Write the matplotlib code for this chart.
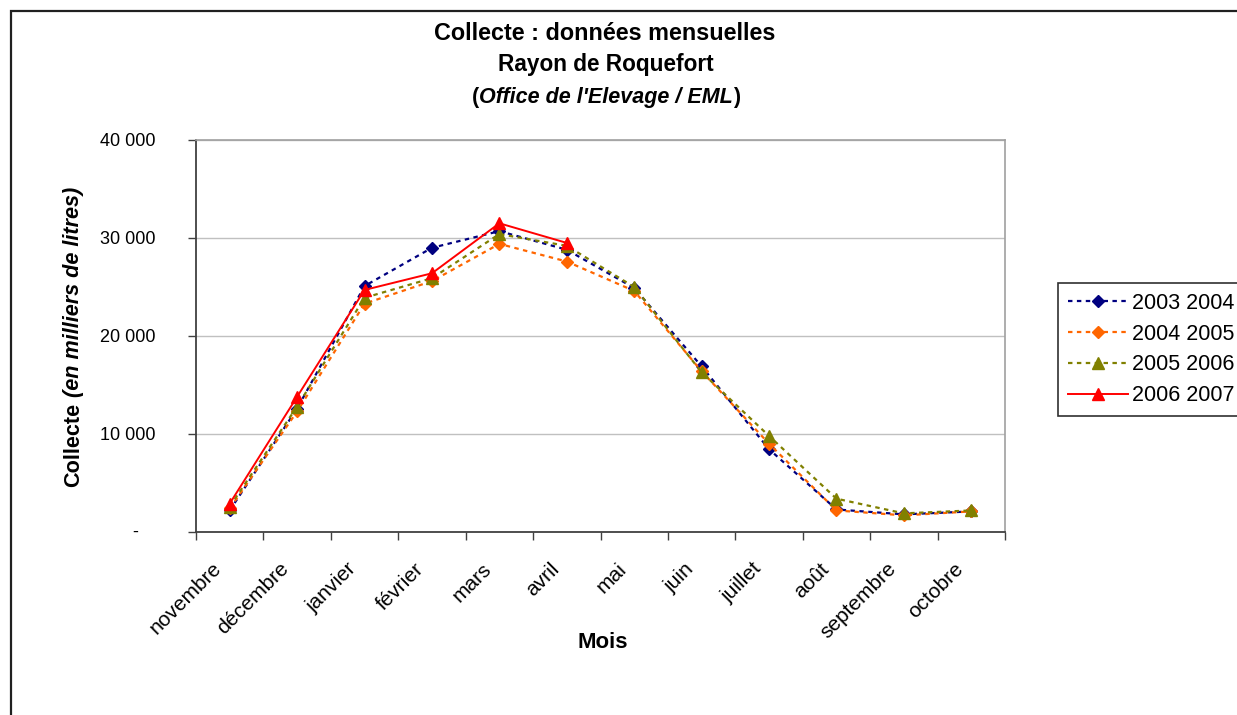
import matplotlib
matplotlib.use("Agg")
import matplotlib.pyplot as plt
from matplotlib.patches import Rectangle
from matplotlib.ticker import FuncFormatter, FixedLocator
from matplotlib.transforms import ScaledTranslation

plt.rcParams['font.family'] = ['Liberation Sans', 'DejaVu Sans']

# Données (milliers de litres)
mois = ["novembre", "décembre", "janvier", "février", "mars", "avril",
        "mai", "juin", "juillet", "août", "septembre", "octobre"]
c_2003_2004 = [2200, 12600, 25100, 29000, 30700, 28800, 24900, 16900, 8450, 2300, 1800, 2100]
c_2004_2005 = [2400, 12300, 23300, 25600, 29400, 27600, 24600, 16400, 9000, 2200, 1700, 2100]
c_2005_2006 = [2600, 12800, 23900, 25900, 30400, 29200, 25000, 16300, 9800, 3400, 1900, 2200]
c_2006_2007 = [2900, 13800, 24700, 26400, 31500, 29500]
saisons = ["2003 2004", "2004 2005", "2005 2006", "2006 2007"]

W, H = 1237, 715
fig = plt.figure(figsize=(W / 100, H / 100), dpi=100)
ax = fig.add_axes([196 / W, 1 - 532 / H, (1005 - 196) / W, (532 - 140) / H])

x = list(range(len(mois)))
ax.plot(x, c_2003_2004, color="#000080", linestyle=(0, (2, 2)), lw=1.6,
        marker="D", ms=6.5, label=saisons[0])
ax.plot(x, c_2004_2005, color="#FF6600", linestyle=(0, (2, 2)), lw=1.6,
        marker="D", ms=6.5, label=saisons[1])
ax.plot(x, c_2005_2006, color="#808000", linestyle=(0, (2, 2)), lw=1.6,
        marker="^", ms=9, label=saisons[2])
ax.plot(x[:len(c_2006_2007)], c_2006_2007, color="#FF0000", linestyle="-", lw=1.4,
        marker="^", ms=9, label=saisons[3])

ax.set_xlim(-0.5, len(mois) - 0.5)
ax.set_ylim(0, 40000)

# axe Y
ax.yaxis.set_major_locator(FixedLocator([0, 10000, 20000, 30000, 40000]))
ax.yaxis.set_major_formatter(FuncFormatter(
    lambda v, p: "" if v == 0 else f"{int(v):,}".replace(",", " ")))
ax.tick_params(axis="y", direction="out", length=6, width=1, color="#404040",
               pad=23, labelsize=13)
ax.annotate("-", xy=(0, 0), xycoords=("axes fraction", "data"), xytext=(-42, 0),
            textcoords="offset points", ha="right", va="center", fontsize=13)
ax.grid(axis="y", color="#C0C0C0", lw=1)
ax.set_axisbelow(True)

# axe X : graduations entre les catégories, libellés au centre
ax.xaxis.set_major_locator(FixedLocator([i - 0.5 for i in range(len(mois) + 1)]))
ax.xaxis.set_major_formatter(FuncFormatter(lambda v, p: ""))
ax.xaxis.set_minor_locator(FixedLocator(x))
ax.set_xticklabels(mois, minor=True, rotation=45, ha="right", va="baseline",
                   rotation_mode="anchor", fontsize=15)
ax.tick_params(axis="x", which="major", direction="out", length=6, width=1, color="#404040")
ax.tick_params(axis="x", which="minor", length=0, pad=25)
decal = ScaledTranslation(-0.07, -0.03, fig.dpi_scale_trans)
for lab in ax.get_xticklabels(minor=True):
    lab.set_transform(lab.get_transform() + decal)

for s in ["left", "bottom"]:
    ax.spines[s].set_color("#404040")
    ax.spines[s].set_linewidth(1.3)
for s in ["top", "right"]:
    ax.spines[s].set_color("#A0A0A0")
    ax.spines[s].set_linewidth(1.2)

leg = ax.legend(loc="upper left", bbox_to_anchor=(1058 / W, 1 - 283 / H),
                bbox_transform=fig.transFigure, borderaxespad=0, fontsize=15.5,
                handlelength=2.8, handletextpad=0.2, labelspacing=0.46,
                borderpad=0.45, fancybox=False, framealpha=1)
leg.get_frame().set_edgecolor("#303030")
leg.get_frame().set_linewidth(1.2)

renderer = fig.canvas.get_renderer()


def texte_mixte(cx, cy, morceaux, taille, rotation=0):
    """Écrit un texte composé de morceaux droits/italiques, centré sur (cx, cy) en pixels."""
    largeurs = []
    for txt, style in morceaux:
        if txt == " ":
            largeurs.append(taille * 0.278 * 100 / 72)
            continue
        t = fig.text(0, 0, txt, fontsize=taille, fontweight="bold", fontstyle=style)
        largeurs.append(t.get_window_extent(renderer).width)
        t.remove()
    total = sum(largeurs)
    pos = 0
    for (txt, style), w in zip(morceaux, largeurs):
        if txt != " ":
            if rotation == 0:
                fig.text((cx - total / 2 + pos) / W, 1 - cy / H, txt, fontsize=taille,
                         fontweight="bold", fontstyle=style, ha="left", va="center_baseline")
            else:
                fig.text(cx / W, 1 - (cy + total / 2 - pos) / H, txt, fontsize=taille,
                         fontweight="bold", fontstyle=style, rotation=90,
                         rotation_mode="anchor", ha="left", va="baseline")
        pos += w


# titre
fig.text(605 / W, 1 - 33 / H, "Collecte : données mensuelles", fontsize=16.8,
         fontweight="bold", ha="center", va="center")
fig.text(606 / W, 1 - 64 / H, "Rayon de Roquefort", fontsize=16.3,
         fontweight="bold", ha="center", va="center")
texte_mixte(606, 95, [("(", "normal"), ("Office de l'Elevage / EML", "italic"),
                      (")", "normal")], 15.5)

# titres des axes
fig.text(603 / W, 1 - 643 / H, "Mois", fontsize=16, fontweight="bold",
         ha="center", va="center")
texte_mixte(79, 337, [("Collecte", "normal"), (" ", "normal"),
                      ("(en milliers de litres)", "italic")], 15.6, rotation=90)

# cadre du graphique
fig.patches.append(Rectangle((11 / W, -0.1), 1.2, 1.1 - 11 / H, transform=fig.transFigure,
                             fill=False, edgecolor="#202020", lw=1.6))

fig.savefig("out.png", dpi=100)
